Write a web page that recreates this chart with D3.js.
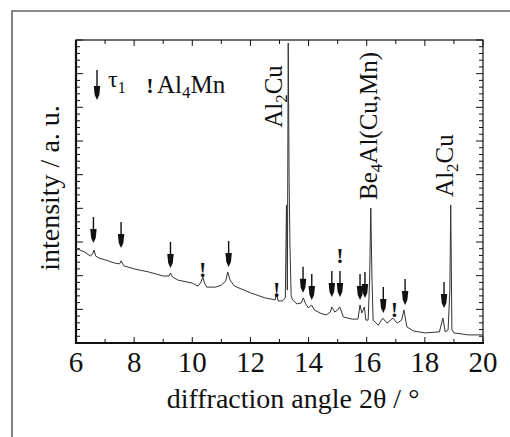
<!DOCTYPE html>
<html><head><meta charset="utf-8">
<script src="https://cdn.jsdelivr.net/npm/d3@7"></script>
</head>
<body style="margin:0;background:#fff">
<svg id="c" width="510" height="437" style="font-family:'Times New Roman','Liberation Serif',Tinos,serif"></svg>
<script>
// ---- data ----
const angles = [6.0,6.3,6.5,6.58,6.62,6.68,6.8,7.0,7.3,7.5,7.55,7.65,8.0,8.5,9.0,9.2,9.25,9.32,9.5,10.0,10.2,10.3,10.36,10.42,10.5,10.8,11.0,11.15,11.22,11.3,11.45,12.0,12.5,12.85,12.9,12.95,13.1,13.2,13.24,13.27,13.3,13.33,13.36,13.4,13.45,13.6,13.75,13.82,13.9,14.0,14.1,14.2,14.4,14.6,14.75,14.8,14.9,15.0,15.07,15.2,15.5,15.7,15.77,15.83,15.92,15.97,16.05,16.1,16.14,16.18,16.22,16.4,16.55,16.7,16.9,17.05,17.2,17.28,17.38,17.6,18.0,18.5,18.62,18.7,18.8,18.86,18.89,18.93,19.0,19.5,20.0];
const intensity = [2.81,2.70,2.58,2.67,2.76,2.58,2.52,2.47,2.38,2.35,2.44,2.29,2.20,2.11,1.99,1.99,2.08,1.96,1.87,1.78,1.69,1.81,1.96,1.78,1.66,1.66,1.72,1.84,2.11,1.87,1.69,1.49,1.34,1.28,1.49,1.25,1.25,1.34,4.10,1.57,8.91,4.84,2.91,1.40,1.28,1.16,1.19,1.34,1.16,1.04,1.13,0.98,0.89,0.83,0.92,1.07,0.92,0.98,1.07,0.77,0.71,0.71,1.13,0.89,1.07,0.68,0.68,1.87,4.01,1.93,0.68,0.53,0.74,0.59,0.74,0.59,0.68,0.98,0.48,0.36,0.30,0.33,0.74,0.33,0.39,1.57,4.10,0.39,0.30,0.24,0.24];

// tau1 reflections (arrow tip positions)
const tauAngles = [6.6,7.55,9.25,11.25,13.81,14.11,14.8,15.08,15.77,15.94,16.57,17.32,18.66];
const tauLevels = [2.97,2.82,2.23,2.26,1.49,1.28,1.37,1.37,1.28,1.34,0.89,1.13,1.04];

// Al4Mn reflections ("!" markers)
const mnAngles = [10.36,12.9,15.08,16.95];
const mnLevels = [1.96,1.37,2.38,0.77];

// peak labels
const peakNames = [["Al","2","Cu"],["Be","4","Al(Cu,Mn)"],["Al","2","Cu"]];
const peakAngles = [13.09,16.35,18.97];
const peakLevels = [6.39,4.25,4.34];

const xTickLabels = [6,8,10,12,14,16,18,20];
const xTitle = "diffraction angle 2θ / °";
const yTitle = "intensity / a. u.";

// ---- drawing ----
const FONT = "Times New Roman";
const svg = d3.select("#c");
const L=76, R=483, T=40, B=343;
const x = d3.scaleLinear().domain([6,20]).range([L,R]);
const y = d3.scaleLinear().domain([0,9]).range([B,T]);
function txt(sel){ return sel.append("text").style("font-family",FONT).style("fill","#111"); }

// outer frame (left + top edge)
svg.append("path").attr("d","M12,437 L12,11 L510,11").attr("fill","none").attr("stroke","#666").attr("stroke-width",1.6);

// ticks
const g = svg.append("g");
d3.range(6,20.01,1).forEach(v=>{
  const len = (v%2===0)?6:4;
  g.append("line").attr("x1",x(v)).attr("x2",x(v)).attr("y1",B).attr("y2",B-len).attr("stroke","#111").attr("stroke-width",1);
  g.append("line").attr("x1",x(v)).attr("x2",x(v)).attr("y1",T).attr("y2",T+len).attr("stroke","#111").attr("stroke-width",1);
});
d3.range(0,9.001,0.2).forEach(v=>{
  const major = Math.abs(v-Math.round(v))<1e-6;
  const len = major?7:4;
  g.append("line").attr("x1",L).attr("x2",L+len).attr("y1",y(v)).attr("y2",y(v)).attr("stroke","#111").attr("stroke-width",1);
  g.append("line").attr("x1",R).attr("x2",R-len).attr("y1",y(v)).attr("y2",y(v)).attr("stroke","#111").attr("stroke-width",1);
});

// frame
svg.append("rect").attr("x",L).attr("y",T).attr("width",R-L).attr("height",B-T).attr("fill","none").attr("stroke","#111").attr("stroke-width",1.2);
svg.append("line").attr("x1",L).attr("x2",L).attr("y1",T).attr("y2",B+1).attr("stroke","#111").attr("stroke-width",2.2);
svg.append("line").attr("x1",L-1).attr("x2",R+1).attr("y1",B).attr("y2",B).attr("stroke","#111").attr("stroke-width",2.2);

// x tick labels
xTickLabels.forEach(d=>{
  txt(svg).attr("x",x(d)).attr("y",372).attr("text-anchor","middle").style("font-size","29px").text(d);
});

// titles
txt(svg).attr("x",293).attr("y",408).attr("text-anchor","middle").style("font-size","28px").text(xTitle);
txt(svg).attr("transform","translate(59,188) rotate(-90)").attr("text-anchor","middle").style("font-size","28px").text(yTitle);

// trace
const line = d3.line().x((d,i)=>x(angles[i])).y((d,i)=>y(intensity[i]));
svg.append("path").datum(intensity).attr("d",line).attr("fill","none")
  .attr("stroke","#333").attr("stroke-width",1);

// arrows
function arrow(px,tip,h){
  h = h||26;
  const a = svg.append("g");
  a.append("line").attr("x1",px).attr("x2",px).attr("y1",tip-h).attr("y2",tip-8).attr("stroke","#111").attr("stroke-width",1.4);
  a.append("path").attr("d",`M${px-3.2},${tip-14} L${px+3.2},${tip-14} L${px+2.3},${tip-5} L${px},${tip} L${px-2.3},${tip-5} Z`).attr("fill","#111");
}
tauAngles.forEach((a,i)=>arrow(x(a),y(tauLevels[i])));

// "!" markers
mnAngles.forEach((a,i)=>{
  txt(svg).attr("x",x(a)).attr("y",y(mnLevels[i])).attr("text-anchor","middle")
    .style("font-size","22px").style("font-weight","bold").text("!");
});

// peak labels
peakNames.forEach((p,i)=>{
  const t = txt(svg).style("font-size","25px")
    .attr("transform",`translate(${x(peakAngles[i])},${y(peakLevels[i])}) rotate(-90)`);
  t.append("tspan").text(p[0]);
  t.append("tspan").style("font-size","17px").attr("dy",5).text(p[1]);
  t.append("tspan").attr("dy",-5).text(p[2]);
});

// legend
arrow(97,100,30);
const lt = txt(svg).attr("x",108).attr("y",87).style("font-size","24px");
lt.append("tspan").text("τ");
lt.append("tspan").style("font-size","16px").attr("dy",6).text("1");
txt(svg).attr("x",150).attr("y",93).attr("text-anchor","middle").style("font-size","22px").style("font-weight","bold").text("!");
const lm = txt(svg).attr("x",157).attr("y",93).style("font-size","25px");
lm.append("tspan").text("Al");
lm.append("tspan").style("font-size","17px").attr("dy",5).text("4");
lm.append("tspan").attr("dy",-5).text("Mn");
</script></body></html>
